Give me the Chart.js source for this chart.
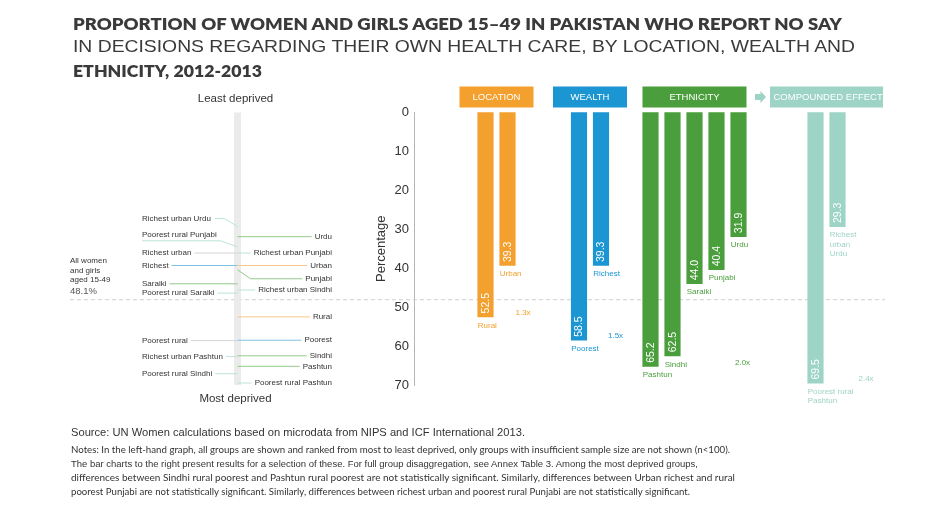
<!DOCTYPE html>
<html>
<head>
<meta charset="utf-8">
<title>No say in own health care, Pakistan 2012-2013</title>
<script src="https://cdn.jsdelivr.net/npm/chart.js@4.4.1/dist/chart.umd.min.js"></script>
<style>
  body { margin: 0; background: #fff; }
  #page { position: relative; width: 940px; height: 525px; overflow: hidden; color: #333; }
  #chart { position: absolute; left: 0; top: 0; }
  .line { position: absolute; left: 72.5px; top: 0; white-space: nowrap; transform-origin: 0 0; line-height: 1; }
  .bold { font: 800 16.5px Lato, "Liberation Sans", sans-serif; color: #3a3a3a; }
  .light { font: 400 17px "Liberation Sans Narrow", "Liberation Sans", Arial, sans-serif; color: #3a3a3a; }
  .source { left: 71px; font: 400 10.5px "Liberation Sans", Arial, sans-serif; }
  .note { left: 71px; font: 400 9.5px "Liberation Sans", Arial, sans-serif; }
  .note.geo { font-family: Lato, sans-serif; }
</style>
</head>
<body>
<div id="page">
  <canvas id="chart" width="940" height="525"></canvas>

  <div class="line bold" data-base="30" data-w="769">PROPORTION OF WOMEN AND GIRLS AGED 15–49 IN PAKISTAN WHO REPORT NO SAY</div>
  <div class="line light" data-base="52.3" data-w="782">IN DECISIONS REGARDING THEIR OWN HEALTH CARE, BY LOCATION, WEALTH AND</div>
  <div class="line bold" data-base="76.7" data-w="189">ETHNICITY, 2012-2013</div>

  <div class="line source" data-base="436" data-w="454">Source: UN Women calculations based on microdata from NIPS and ICF International 2013.</div>
  <div class="line note geo" data-base="453" data-w="659">Notes: In the left-hand graph, all groups are shown and ranked from most to least deprived, only groups with insufficient sample size are not shown (n&lt;100).</div>
  <div class="line note" data-base="467" data-w="627">The bar charts to the right present results for a selection of these. For full group disaggregation, see Annex Table 3. Among the most deprived groups,</div>
  <div class="line note geo" data-base="481" data-w="664">differences between Sindhi rural poorest and Pashtun rural poorest are not statistically significant. Similarly, differences between Urban richest and rural</div>
  <div class="line note geo" data-base="495" data-w="619">poorest Punjabi are not statistically significant. Similarly, differences between richest urban and poorest rural Punjabi are not statistically significant.</div>
</div>

<script>
// values (% with no say in own health care)
const groupNames = ['LOCATION', 'WEALTH', 'ETHNICITY', 'COMPOUNDED EFFECT'];
const locationLabels = ['Rural', 'Urban'];
const locationValues = [52.5, 39.3];
const wealthLabels = ['Poorest', 'Richest'];
const wealthValues = [58.5, 39.3];
const ethnicityLabels = ['Pashtun', 'Sindhi', 'Saraiki', 'Punjabi', 'Urdu'];
const ethnicityValues = [65.2, 62.5, 44.0, 40.4, 31.9];
const compoundLabels = [['Poorest rural', 'Pashtun'], ['Richest', 'urban', 'Urdu']];
const compoundValues = [69.5, 29.3];

const yTicks = [0, 10, 20, 30, 40, 50, 60, 70];
const allWomenValue = 48.1;

// left-hand ranking strip, by the side the label sits on
const rankLeftLabels = ['Richest urban Urdu', 'Poorest rural Punjabi', 'Richest urban', 'Richest', 'Saraiki',
  'Poorest rural Saraiki', 'Poorest rural', 'Richest urban Pashtun', 'Poorest rural Sindhi'];
const rankLeftValues = [29.3, 34.5, 36.1, 39.3, 44.0, 46.4, 58.6, 62.7, 67.1];
const rankLeftKinds = ['compound', 'compound', 'mixed', 'wealth', 'ethnicity', 'compound', 'mixed', 'compound', 'compound'];
const rankRightLabels = ['Urdu', 'Richest urban Punjabi', 'Urban', 'Punjabi', 'Richest urban Sindhi',
  'Rural', 'Poorest', 'Sindhi', 'Pashtun', 'Poorest rural Pashtun'];
const rankRightValues = [31.9, 36.1, 39.3, 40.4, 45.6, 52.5, 58.5, 62.5, 65.2, 69.5];
const rankRightKinds = ['ethnicity', 'compound', 'location', 'ethnicity', 'compound', 'location', 'wealth', 'ethnicity', 'ethnicity', 'compound'];

// styling
const FONT = '"Liberation Sans", Arial, sans-serif';
const COLORS = { location: '#F4A02F', wealth: '#1C95D3', ethnicity: '#4A9E3B', compound: '#9DD4C6', mixed: '#cccccc' };
const LINE_COLORS = { location: '#F8C888', wealth: '#7DC2E6', ethnicity: '#94C98A', compound: '#BCE3D9', mixed: '#d4d4d4' };
const HEADER_W = [74, 74, 104, 113];
const RATIO_DX = [8, 7, -3.5, 21];
const BAR_W = 15.5;
// category slots: bars sit every 4th slot, with wider gaps between groups
const SLOT_LEAD = 13, SLOT_STEP = 4, SLOT_GAPS = [13, 9, 14], SLOT_TAIL = 1;
// left strip layout
const STRIP_X = 237.5, LEFT_TEXT_X = 142, RIGHT_TEXT_X = 332;
const RANK_NUDGE = {
  'Richest urban Urdu': { dy: -8 },
  'Poorest rural Punjabi': { dy: -12, underline: true },
  'Punjabi': { dy: 9 }
};

// place html text lines on their baselines and stretch them to the reference widths
document.querySelectorAll('[data-w]').forEach(el => {
  const mark = document.createElement('span');
  mark.style.cssText = 'display:inline-block;width:0;height:0;';
  el.appendChild(mark);
  const baseOffset = mark.offsetTop;
  el.style.top = (parseFloat(el.dataset.base) - baseOffset) + 'px';
  const w = el.getBoundingClientRect().width;
  el.style.transform = `scaleX(${parseFloat(el.dataset.w) / w})`;
});

const groups = [
  { key: 'location', name: groupNames[0], labels: locationLabels, values: locationValues },
  { key: 'wealth', name: groupNames[1], labels: wealthLabels, values: wealthValues },
  { key: 'ethnicity', name: groupNames[2], labels: ethnicityLabels, values: ethnicityValues },
  { key: 'compound', name: groupNames[3], labels: compoundLabels, values: compoundValues }
];

// build the category slots
const slotLabels = [];
const slotValues = [];
const slotColors = [];
function pad(n) {
  for (let i = 0; i < n; i++) {
    slotLabels.push('');
    slotValues.push(null);
    slotColors.push('transparent');
  }
}
pad(SLOT_LEAD);
groups.forEach((g, gi) => {
  if (gi > 0) pad(SLOT_GAPS[gi - 1] - 1);
  g.slots = [];
  g.values.forEach((v, i) => {
    if (i > 0) pad(SLOT_STEP - 1);
    g.slots.push(slotLabels.length);
    slotLabels.push(g.labels[i]);
    slotValues.push(v);
    slotColors.push(COLORS[g.key]);
  });
});
pad(SLOT_TAIL);

// dashed line for all women and girls
function drawAverage(ctx, y) {
  const py = y.getPixelForValue(allWomenValue);
  ctx.save();
  ctx.strokeStyle = '#cfcfcf';
  ctx.lineWidth = 1;
  ctx.setLineDash([4, 3]);
  ctx.beginPath();
  ctx.moveTo(70, py);
  ctx.lineTo(885, py);
  ctx.stroke();
  ctx.setLineDash([]);

  ctx.fillStyle = '#333';
  ctx.textAlign = 'left';
  ctx.textBaseline = 'middle';
  ctx.font = '8px ' + FONT;
  ['All women', 'and girls', 'aged 15-49'].forEach((t, i) => ctx.fillText(t, 70, py - 39 + i * 9.7));
  ctx.fillStyle = '#555';
  ctx.font = '9.5px ' + FONT;
  ctx.fillText(allWomenValue.toFixed(1) + '%', 70, py - 8.3);
  ctx.restore();
}

// left-hand ranking strip
function drawRanking(ctx, y) {
  const top = y.getPixelForValue(yTicks[0]);
  const bottom = y.getPixelForValue(yTicks[yTicks.length - 1]);
  ctx.save();
  ctx.fillStyle = '#ebebeb';
  ctx.fillRect(STRIP_X - 3.5, top, 7, bottom - top);

  ctx.fillStyle = '#333';
  ctx.font = '11.5px ' + FONT;
  ctx.textAlign = 'center';
  ctx.textBaseline = 'middle';
  ctx.fillText('Least deprived', STRIP_X - 2, top - 14);
  ctx.fillText('Most deprived', STRIP_X - 2, bottom + 13.5);

  ctx.font = '8px ' + FONT;
  ctx.lineWidth = 1;

  rankLeftLabels.forEach((label, i) => {
    const vy = y.getPixelForValue(rankLeftValues[i]);
    const nudge = RANK_NUDGE[label] || {};
    const ly = vy + (nudge.dy || 0);
    const w = ctx.measureText(label).width;
    ctx.fillStyle = '#333';
    ctx.textAlign = 'left';
    ctx.fillText(label, LEFT_TEXT_X, ly);
    ctx.strokeStyle = LINE_COLORS[rankLeftKinds[i]];
    ctx.beginPath();
    if (nudge.underline) {
      ctx.moveTo(LEFT_TEXT_X, ly + 6);
      ctx.lineTo(STRIP_X - 17, ly + 6);
      ctx.lineTo(STRIP_X, vy);
    } else if (nudge.dy) {
      ctx.moveTo(LEFT_TEXT_X + w + 4, ly);
      ctx.lineTo(STRIP_X - 13, ly);
      ctx.lineTo(STRIP_X, vy);
    } else {
      ctx.moveTo(LEFT_TEXT_X + w + 3, vy);
      ctx.lineTo(STRIP_X, vy);
    }
    ctx.stroke();
  });

  rankRightLabels.forEach((label, i) => {
    const vy = y.getPixelForValue(rankRightValues[i]);
    const nudge = RANK_NUDGE[label] || {};
    const ly = vy + (nudge.dy || 0);
    const w = ctx.measureText(label).width;
    ctx.fillStyle = '#333';
    ctx.textAlign = 'right';
    ctx.fillText(label, RIGHT_TEXT_X, ly);
    ctx.strokeStyle = LINE_COLORS[rankRightKinds[i]];
    ctx.beginPath();
    ctx.moveTo(STRIP_X, vy);
    if (nudge.dy) ctx.lineTo(STRIP_X + 13, ly);
    ctx.lineTo(RIGHT_TEXT_X - w - 3, ly);
    ctx.stroke();
  });
  ctx.restore();
}

// headers, in-bar values, labels under bars and max/min ratios
function drawGroup(ctx, x, y, area, g, gi) {
  const color = COLORS[g.key];
  const xs = g.slots.map(s => x.getPixelForValue(s));
  const cx = (xs[0] + xs[xs.length - 1]) / 2;
  const hw = HEADER_W[gi];
  const hTop = area.top - 26;
  const hH = 21;

  ctx.save();
  ctx.fillStyle = color;
  ctx.fillRect(cx - hw / 2, hTop, hw, hH);
  ctx.beginPath();
  ctx.rect(cx - hw / 2, hTop, hw, hH);
  ctx.clip();
  ctx.fillStyle = '#fff';
  ctx.font = '9.5px ' + FONT;
  ctx.textBaseline = 'middle';
  if (ctx.measureText(g.name).width > hw - 6) {
    ctx.textAlign = 'left';
    ctx.fillText(g.name, cx - hw / 2 + 3.5, hTop + hH / 2 + 0.5);
  } else {
    ctx.textAlign = 'center';
    ctx.fillText(g.name, cx, hTop + hH / 2 + 0.5);
  }
  ctx.restore();

  // arrow leading into the compounded effect box
  if (g.key === 'compound') {
    const ax = cx - hw / 2 - 15;
    const ay = hTop + hH / 2;
    ctx.fillStyle = color;
    ctx.fillRect(ax, ay - 3, 6, 6);
    ctx.beginPath();
    ctx.moveTo(ax + 5.5, ay - 6);
    ctx.lineTo(ax + 11, ay);
    ctx.lineTo(ax + 5.5, ay + 6);
    ctx.closePath();
    ctx.fill();
  }

  g.values.forEach((v, i) => {
    const bx = xs[i];
    const by = y.getPixelForValue(v);
    ctx.save();
    ctx.translate(bx, by - 3.5);
    ctx.rotate(-Math.PI / 2);
    ctx.fillStyle = '#fff';
    ctx.font = '10.5px ' + FONT;
    ctx.textAlign = 'left';
    ctx.textBaseline = 'middle';
    ctx.fillText(v.toFixed(1), 0, 0.5);
    ctx.restore();

    ctx.fillStyle = color;
    ctx.font = '8px ' + FONT;
    ctx.textAlign = 'left';
    ctx.textBaseline = 'middle';
    [].concat(g.labels[i]).forEach((ln, k) => ctx.fillText(ln, bx - BAR_W / 2, by + 8.5 + k * 9.5));
  });

  const maxV = Math.max(...g.values);
  const minV = Math.min(...g.values);
  ctx.fillStyle = color;
  ctx.font = '8px ' + FONT;
  ctx.textAlign = 'left';
  ctx.textBaseline = 'middle';
  ctx.fillText((maxV / minV).toFixed(1) + 'x', xs[xs.length - 1] + RATIO_DX[gi], y.getPixelForValue(maxV) - 4);
}

const decorations = {
  id: 'decorations',
  beforeDatasetsDraw(chart) {
    const { ctx, scales: { y } } = chart;
    drawAverage(ctx, y);
    drawRanking(ctx, y);
  },
  afterDatasetsDraw(chart) {
    const { ctx, scales: { x, y }, chartArea } = chart;
    groups.forEach((g, gi) => drawGroup(ctx, x, y, chartArea, g, gi));
  }
};

Chart.defaults.font.family = FONT;
Chart.defaults.color = '#333';

new Chart(document.getElementById('chart'), {
  type: 'bar',
  data: {
    labels: slotLabels,
    datasets: [{
      data: slotValues,
      backgroundColor: slotColors,
      barThickness: BAR_W,
      clip: false
    }]
  },
  options: {
    responsive: false,
    animation: false,
    layout: { padding: { left: 370, right: 97, top: 112.5, bottom: 140 } },
    plugins: {
      legend: { display: false },
      tooltip: { enabled: false }
    },
    scales: {
      x: { display: false, offset: false },
      y: {
        reverse: true,
        min: yTicks[0],
        max: yTicks[yTicks.length - 1],
        afterBuildTicks: s => { s.ticks = yTicks.map(v => ({ value: v })); },
        afterFit: s => { s.width = 44; },
        ticks: { padding: 5, color: '#333', font: { size: 13 } },
        grid: { display: false, drawTicks: false },
        border: { display: true, color: '#b5b5b5' },
        title: { display: true, text: 'Percentage', color: '#333', font: { size: 13 } }
      }
    }
  },
  plugins: [decorations]
});
</script>
</body>
</html>
